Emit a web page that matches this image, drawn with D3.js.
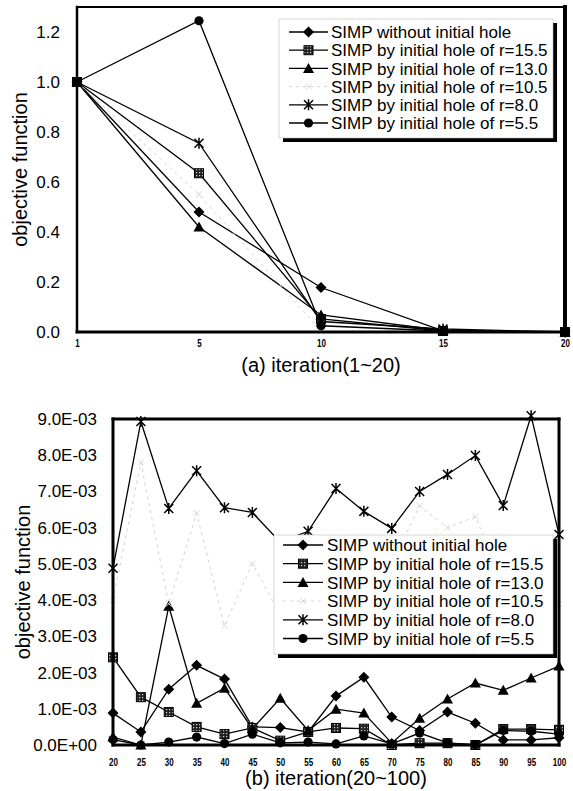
<!DOCTYPE html>
<html lang="en">

<head>
    <meta charset="UTF-8">
    <title>objective function vs iteration</title>
    <script src="https://d3js.org/d3.v7.min.js"></script>
    <style>
        body { margin: 0; background: #fff; }
        svg text { font-family: "Liberation Sans", Arial, sans-serif; fill: #000; }
    </style>
</head>

<body>
    <svg width="573" height="791"></svg>
    <script>
        // series labels and marker types
        const seriesNames = [
            'SIMP without initial hole',
            'SIMP by initial hole of r=15.5',
            'SIMP by initial hole of r=13.0',
            'SIMP by initial hole of r=10.5',
            'SIMP by initial hole of r=8.0',
            'SIMP by initial hole of r=5.5'
        ];
        const markers = ['diamond', 'square', 'triangle', 'faint', 'star', 'circle'];

        // (a) iteration 1~20
        const iterA = ['1', '5', '10', '15', '20'];
        const aWithout = [1.0, 0.48, 0.178, 0.005, 0.001];
        const aR155 = [1.0, 0.635, 0.052, 0.004, 0.0];
        const aR130 = [1.0, 0.42, 0.068, 0.006, 0.0];
        const aR105 = [1.0, 0.55, 0.004, 0.003, 0.0];
        const aR80 = [1.0, 0.755, 0.042, 0.012, 0.0];
        const aR55 = [1.0, 1.245, 0.025, 0.004, 0.0];
        const yTicksA = [0, 0.2, 0.4, 0.6, 0.8, 1.0, 1.2];
        const yLabelsA = ['0.0', '0.2', '0.4', '0.6', '0.8', '1.0', '1.2'];

        // (b) iteration 20~100
        const iterB = ['20', '25', '30', '35', '40', '45', '50', '55', '60', '65', '70', '75', '80', '85', '90', '95', '100'];
        const bWithout = [0.88e-3, 0.36e-3, 1.54e-3, 2.20e-3, 1.82e-3, 0.50e-3, 0.48e-3, 0.36e-3, 1.35e-3, 1.87e-3, 0.77e-3, 0.40e-3, 0.91e-3, 0.60e-3, 0.14e-3, 0.14e-3, 0.20e-3];
        const bR155 = [2.42e-3, 1.32e-3, 0.91e-3, 0.50e-3, 0.30e-3, 0.47e-3, 0.12e-3, 0.36e-3, 0.47e-3, 0.45e-3, 0.0, 0.05e-3, 0.05e-3, 0.0, 0.44e-3, 0.44e-3, 0.42e-3];
        const bR130 = [0.22e-3, 0.0, 3.83e-3, 1.15e-3, 1.57e-3, 0.45e-3, 1.29e-3, 0.40e-3, 0.99e-3, 0.88e-3, 0.05e-3, 0.74e-3, 1.27e-3, 1.71e-3, 1.51e-3, 1.85e-3, 2.18e-3];
        const bR105 = [4.0e-3, 7.8e-3, 3.9e-3, 6.4e-3, 3.3e-3, 5.0e-3, 3.6e-3, 3.2e-3, 4.8e-3, 3.6e-3, 5.0e-3, 6.6e-3, 6.0e-3, 6.3e-3, 4.5e-3, 4.8e-3, 3.9e-3];
        const bR80 = [4.88e-3, 8.93e-3, 6.53e-3, 7.57e-3, 6.55e-3, 6.42e-3, 5.6e-3, 5.9e-3, 7.08e-3, 6.45e-3, 5.98e-3, 7.0e-3, 7.47e-3, 7.99e-3, 6.61e-3, 9.09e-3, 5.81e-3];
        const bR55 = [0.15e-3, 0.0, 0.08e-3, 0.22e-3, 0.04e-3, 0.30e-3, 0.06e-3, 0.08e-3, 0.03e-3, 0.25e-3, 0.03e-3, 0.33e-3, 0.06e-3, 0.0, 0.40e-3, 0.38e-3, 0.30e-3];
        const yTicksB = [0, 1e-3, 2e-3, 3e-3, 4e-3, 5e-3, 6e-3, 7e-3, 8e-3, 9e-3];
        const yLabelsB = ['0.0E+00', '1.0E-03', '2.0E-03', '3.0E-03', '4.0E-03', '5.0E-03', '6.0E-03', '7.0E-03', '8.0E-03', '9.0E-03'];

        const svg = d3.select('svg');

        // checker fill for the square marker
        const pat = svg.append('defs').append('pattern')
            .attr('id', 'chk')
            .attr('patternUnits', 'userSpaceOnUse')
            .attr('width', 3).attr('height', 3);
        pat.append('rect').attr('width', 3).attr('height', 3).attr('fill', '#222');
        pat.append('rect').attr('x', 1).attr('y', 1).attr('width', 1.2).attr('height', 1.2).attr('fill', '#ccc');

        function drawMarker(g, type, x, y) {
            if (type === 'diamond') {
                g.append('path').attr('d', 'M0,-5.5L5.5,0L0,5.5L-5.5,0Z')
                    .attr('transform', `translate(${x},${y})`).attr('fill', '#000');
            } else if (type === 'square') {
                g.append('rect').attr('x', x - 4.5).attr('y', y - 4.5)
                    .attr('width', 9).attr('height', 9)
                    .attr('fill', 'url(#chk)').attr('stroke', '#000').attr('stroke-width', 1);
            } else if (type === 'triangle') {
                g.append('path').attr('d', 'M0,-5.5L5.5,4.5L-5.5,4.5Z')
                    .attr('transform', `translate(${x},${y})`).attr('fill', '#000');
            } else if (type === 'circle') {
                g.append('circle').attr('cx', x).attr('cy', y).attr('r', 4.6).attr('fill', '#000');
            } else if (type === 'star') {
                g.append('path').attr('d', 'M-4.5,-4.5L4.5,4.5M-4.5,4.5L4.5,-4.5M0,-5.5L0,5.5')
                    .attr('transform', `translate(${x},${y})`)
                    .attr('stroke', '#000').attr('stroke-width', 1.5).attr('fill', 'none');
            } else {
                g.append('path').attr('d', 'M-3,-3L3,3M-3,3L3,-3')
                    .attr('transform', `translate(${x},${y})`)
                    .attr('stroke', '#d6d6d6').attr('stroke-width', 1).attr('fill', 'none');
            }
        }

        function lineStyle(sel, type) {
            if (type === 'faint') {
                sel.attr('stroke', '#d2d2d2').attr('stroke-width', 1).attr('stroke-dasharray', '3,4');
            } else {
                sel.attr('stroke', '#000').attr('stroke-width', 1.3);
            }
        }

        function drawChart(cfg) {
            const x = d3.scalePoint().domain(cfg.cats).range([cfg.left, cfg.right]).padding(0);
            const y = d3.scaleLinear().domain(cfg.yDomain).range([cfg.bottom, cfg.top]);
            const g = svg.append('g');

            // series lines then markers
            cfg.series.forEach((vals, i) => {
                const pts = vals.map((v, j) => [x(cfg.cats[j]), y(v)]);
                g.append('path')
                    .datum(pts)
                    .attr('fill', 'none')
                    .attr('d', d3.line())
                    .call(lineStyle, markers[i]);
            });
            cfg.series.forEach((vals, i) => {
                vals.forEach((v, j) => drawMarker(g, markers[i], x(cfg.cats[j]), y(v)));
            });

            // frame
            const frame = [
                [cfg.left, cfg.top, cfg.left, cfg.bottom, cfg.wLeft],
                [cfg.left, cfg.top, cfg.right, cfg.top, cfg.wTop],
                [cfg.right, cfg.top, cfg.right, cfg.bottom, cfg.wRight],
                [cfg.left, cfg.bottom, cfg.right, cfg.bottom, cfg.wBottom]
            ];
            g.selectAll('line.frame').data(frame).enter().append('line')
                .attr('class', 'frame')
                .attr('x1', d => d[0]).attr('y1', d => d[1])
                .attr('x2', d => d[2]).attr('y2', d => d[3])
                .attr('stroke', '#000').attr('stroke-width', d => d[4])
                .attr('stroke-linecap', 'square');

            // legend with shadow
            const lg = cfg.legend;
            g.append('rect').attr('x', lg.x + 4).attr('y', lg.y + 4)
                .attr('width', lg.w).attr('height', lg.h).attr('fill', '#000');
            g.append('rect').attr('x', lg.x).attr('y', lg.y)
                .attr('width', lg.w).attr('height', lg.h)
                .attr('fill', '#fff').attr('stroke', '#bbb').attr('stroke-width', 0.6);
            seriesNames.forEach((name, i) => {
                const ry = lg.row0 + i * lg.step;
                g.append('line').attr('x1', lg.lx1).attr('x2', lg.lx2)
                    .attr('y1', ry).attr('y2', ry).call(lineStyle, markers[i]);
                drawMarker(g, markers[i], (lg.lx1 + lg.lx2) / 2, ry);
                g.append('text').attr('x', lg.tx).attr('y', ry).attr('dy', '0.36em')
                    .style('font-size', '17px').text(name);
            });

            // axes
            const ya = g.append('g').attr('transform', `translate(${cfg.left},0)`)
                .call(d3.axisLeft(y).tickValues(cfg.yTicks)
                    .tickFormat((d, i) => cfg.yLabels[i]).tickSize(0).tickPadding(cfg.yPad));
            ya.select('.domain').remove();
            ya.selectAll('text').style('font-size', '17px').attr('fill', '#000');

            const xa = g.append('g').attr('transform', `translate(0,${cfg.bottom})`)
                .call(d3.axisBottom(x).tickSize(0).tickPadding(cfg.xPad));
            xa.select('.domain').remove();
            xa.selectAll('text').style('font-size', '10px').style('font-weight', 'bold')
                .attr('fill', '#000').attr('transform', 'scale(0.8,1)');

            g.append('text')
                .attr('transform', `translate(${cfg.yTitleX},${(cfg.top + cfg.bottom) / 2}) rotate(-90)`)
                .attr('text-anchor', 'middle').style('font-size', '20px')
                .text('objective function');
            g.append('text').attr('x', (cfg.left + cfg.right) / 2).attr('y', cfg.xTitleY)
                .attr('text-anchor', 'middle').style('font-size', '20px')
                .text(cfg.xTitle);
        }

        drawChart({
            cats: iterA,
            series: [aWithout, aR155, aR130, aR105, aR80, aR55],
            yDomain: [0, 1.3],
            left: 77, right: 565, top: 7, bottom: 332,
            wLeft: 2.5, wTop: 2, wRight: 4, wBottom: 3,
            yTicks: yTicksA, yLabels: yLabelsA, yPad: 17, xPad: 8,
            yTitleX: 27, xTitle: '(a) iteration(1~20)', xTitleY: 372,
            legend: { x: 279, y: 19, w: 274, h: 119, row0: 32, step: 18.2, lx1: 289, lx2: 328, tx: 331 }
        });

        drawChart({
            cats: iterB,
            series: [bWithout, bR155, bR130, bR105, bR80, bR55],
            yDomain: [0, 0.009],
            left: 113, right: 559, top: 419, bottom: 745,
            wLeft: 3, wTop: 3, wRight: 3, wBottom: 3,
            yTicks: yTicksB, yLabels: yLabelsB, yPad: 16, xPad: 14,
            yTitleX: 30, xTitle: '(b) iteration(20~100)', xTitleY: 785,
            legend: { x: 274, y: 535, w: 279, h: 119, row0: 545, step: 18.7, lx1: 283, lx2: 323, tx: 327 }
        });
    </script>
</body>

</html>
